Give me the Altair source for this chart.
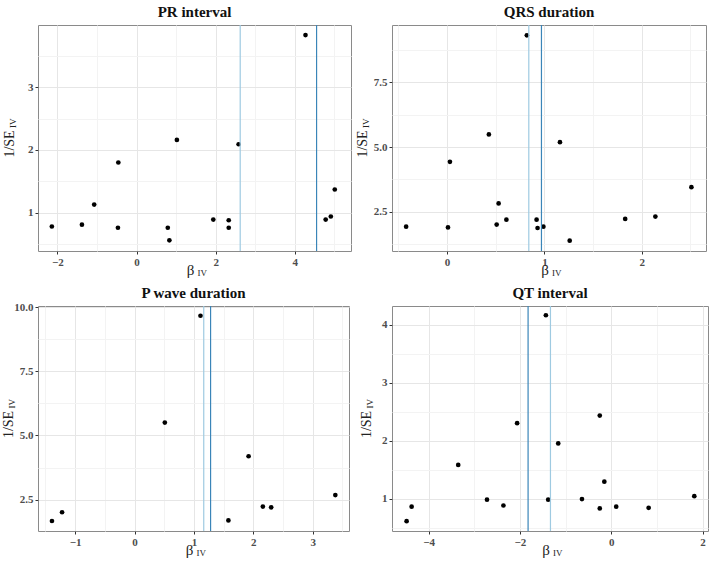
import altair as alt
import pandas as pd

FONT = "Liberation Serif"

# ---------------- data ----------------
pr_beta = [-2.14, -1.38, -1.07, -0.46, -0.47, 0.79, 0.83, 1.02, 1.94, 2.33, 2.33, 2.58, 4.27, 4.78, 4.91, 5.01]
pr_inv_se = [0.78, 0.81, 1.13, 1.80, 0.76, 0.76, 0.56, 2.16, 0.89, 0.88, 0.76, 2.09, 3.83, 0.89, 0.94, 1.37]
pr_lines = [2.62, 4.55]

qrs_beta = [-0.42, 0.01, 0.03, 0.43, 0.51, 0.53, 0.61, 0.82, 0.92, 0.93, 0.99, 1.16, 1.26, 1.83, 2.14, 2.51]
qrs_inv_se = [1.92, 1.89, 4.43, 5.49, 2.00, 2.82, 2.19, 9.32, 2.19, 1.87, 1.92, 5.19, 1.38, 2.22, 2.31, 3.45]
qrs_lines = [0.84, 0.97]

pw_beta = [-1.39, -1.22, 0.51, 1.11, 1.58, 1.92, 2.16, 2.30, 3.38]
pw_inv_se = [1.67, 2.01, 5.50, 9.66, 1.69, 4.19, 2.23, 2.20, 2.68]
pw_lines = [1.165, 1.28]

qt_beta = [-4.48, -4.37, -3.35, -2.72, -2.36, -2.06, -1.43, -1.38, -1.16, -0.64, -0.25, -0.25, -0.15, 0.11, 0.82, 1.82]
qt_inv_se = [0.61, 0.86, 1.58, 0.98, 0.88, 2.30, 4.16, 0.98, 1.95, 0.99, 2.43, 0.83, 1.29, 0.86, 0.84, 1.04]
qt_lines = [-1.33, -1.82]

line_kinds = ["light", "dark"]


def minor_test(step):
    return f"abs(datum.value / {step} - round(datum.value / {step})) > 0.01"


def make_axis(values, step, fmt, orient):
    test = minor_test(step)
    return alt.Axis(
        values=values,
        title=None,
        orient=orient,
        labelExpr=f"{test} ? '' : format(datum.value, '{fmt}')",
        tickOpacity={"condition": {"test": test, "value": 0}, "value": 1},
        gridColor={"condition": {"test": test, "value": "#f3f3f3"}, "value": "#e6e6e6"},
    )


def panel(title, bx, by, lines, xdom, ydom, xvals, yvals, xstep, ystep, xfmt, yfmt,
          w, h, yoff):
    pts = pd.DataFrame({"beta": bx, "inv": by})
    ldf = pd.DataFrame({"beta": lines, "kind": line_kinds})
    xs = alt.Scale(domain=xdom, nice=False, zero=False)
    ys = alt.Scale(domain=ydom, nice=False, zero=False)
    xax = make_axis(xvals, xstep, xfmt, "bottom")
    yax = make_axis(yvals, ystep, yfmt, "left")

    base_pts = alt.Chart(pts).mark_circle(size=22, color="black", opacity=1).encode(
        x=alt.X("beta:Q", scale=xs, axis=xax),
        y=alt.Y("inv:Q", scale=ys, axis=yax),
    )
    rules = alt.Chart(ldf).mark_rule(strokeWidth=1.2).encode(
        x=alt.X("beta:Q", scale=xs, axis=xax),
        color=alt.Color("kind:N", scale=alt.Scale(domain=line_kinds,
                                                  range=["#9ecae1", "#3a85b8"]),
                        legend=None),
    )
    one = alt.Data(values=[{"a": 1}])
    tt = alt.Chart(one).mark_text(text=title, font=FONT, fontSize=15, fontWeight="bold",
                                  align="center", baseline="alphabetic",
                                  color="#111111").encode(
        x=alt.value(w / 2), y=alt.value(-8))
    xt = alt.Chart(one).mark_text(text="β", font=FONT, fontSize=15, align="center",
                                  baseline="middle", color="#222222").encode(
        x=alt.value(w / 2 - 4), y=alt.value(h + 19))
    xs_sub = alt.Chart(one).mark_text(text="IV", font=FONT, fontSize=9, align="left",
                                      baseline="middle", color="#222222").encode(
        x=alt.value(w / 2 + 3), y=alt.value(h + 22))
    yt = alt.Chart(one).mark_text(text="1/SE", font=FONT, fontSize=14, align="center",
                                  baseline="middle", angle=270, color="#222222").encode(
        x=alt.value(-yoff), y=alt.value(h / 2 + 6))
    ys_sub = alt.Chart(one).mark_text(text="IV", font=FONT, fontSize=9, align="left",
                                      baseline="middle", angle=270, color="#222222").encode(
        x=alt.value(-yoff + 3), y=alt.value(h / 2 - 10))
    return alt.layer(base_pts, rules, tt, xt, xs_sub, yt, ys_sub).properties(
        width=w, height=h,
    )


p1 = panel("PR interval", pr_beta, pr_inv_se, pr_lines, [-2.49, 5.42], [0.39, 3.99],
           [-2, -1, 0, 1, 2, 3, 4, 5], [0.5, 1, 1.5, 2, 2.5, 3, 3.5], 2, 1, "d", "d",
           313, 226, 28)
p2 = panel("QRS duration", qrs_beta, qrs_inv_se, qrs_lines, [-0.565, 2.66], [0.98, 9.72],
           [-0.5, 0, 0.5, 1, 1.5, 2, 2.5], [1.25, 2.5, 3.75, 5, 6.25, 7.5, 8.75], 1, 2.5,
           "d", ".1f", 314, 226, 29)
p3 = panel("P wave duration", pw_beta, pw_inv_se, pw_lines, [-1.625, 3.61], [1.28, 10.04],
           [-1.5, -1, -0.5, 0, 0.5, 1, 1.5, 2, 2.5, 3, 3.5], [2.5, 3.75, 5, 6.25, 7.5, 8.75, 10],
           1, 2.5, "d", ".1f", 311, 225, 29)
p4 = panel("QT interval", qt_beta, qt_inv_se, qt_lines, [-4.80, 2.12], [0.44, 4.32],
           [-4, -3, -2, -1, 0, 1, 2], [0.5, 1, 1.5, 2, 2.5, 3, 3.5, 4], 2, 1, "d", "d",
           316, 225, 25)

chart = alt.concat(
    p1, p2, p3, p4, columns=2, align="none", bounds="flush",
    spacing={"row": 55, "column": 41},
).properties(
    padding={"left": 1, "top": 4, "right": 0, "bottom": 0},
    background="white",
).configure_view(
    stroke="#8a8a8a", strokeWidth=1,
).configure_axis(
    domain=False,
    minExtent=0,
    labelFont=FONT,
    labelFontSize=11,
    labelFontWeight="bold",
    labelColor="#4d4d4d",
    labelPadding=2,
    labelOverlap=False,
    labelFlush=False,
    tickSize=3,
    tickColor="#333333",
    gridWidth=1,
)

chart.save("out.html", embed_options={"renderer": "svg", "actions": False})
